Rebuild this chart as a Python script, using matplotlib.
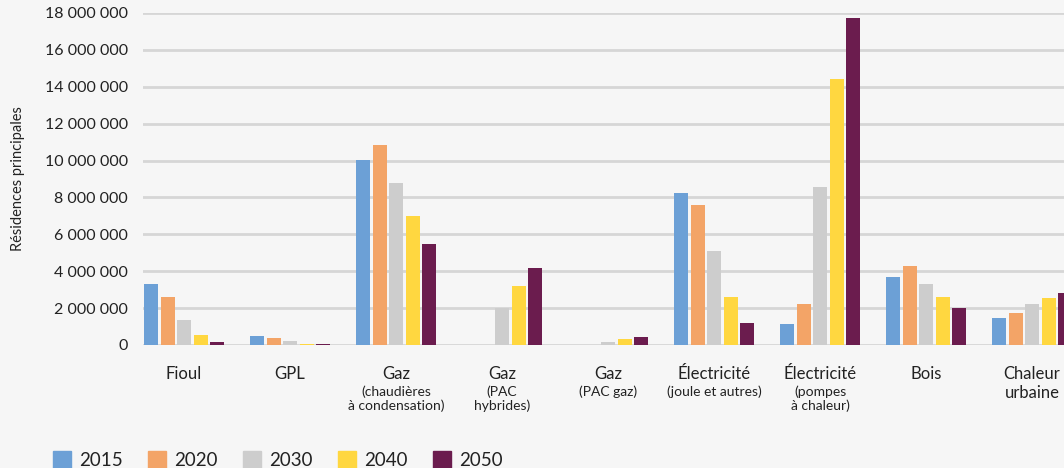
import matplotlib
matplotlib.use("Agg")
import matplotlib.pyplot as plt
from matplotlib.patches import Rectangle
from matplotlib.ticker import FuncFormatter
import numpy as np

plt.rcParams['font.family'] = ['Lato', 'DejaVu Sans']

categories = ["Fioul", "GPL", "Gaz", "Gaz", "Gaz", "Électricité", "Électricité", "Bois", "Chaleur\nurbaine"]
sublabels = ["", "", "(chaudières\nà condensation)", "(PAC\nhybrides)", "(PAC gaz)",
             "(joule et autres)", "(pompes\nà chaleur)", "", ""]
years = ["2015", "2020", "2030", "2040", "2050"]

v2015 = [3300000, 470000, 10030000, 0, 0, 8240000, 1140000, 3690000, 1460000]
v2020 = [2600000, 370000, 10840000, 0, 0, 7590000, 2220000, 4280000, 1730000]
v2030 = [1350000, 200000, 8780000, 2000000, 150000, 5100000, 8570000, 3300000, 2220000]
v2040 = [550000, 50000, 7000000, 3200000, 330000, 2600000, 14430000, 2600000, 2550000]
v2050 = [170000, 70000, 5470000, 4180000, 430000, 1190000, 17730000, 2000000, 2820000]
series = [v2015, v2020, v2030, v2040, v2050]
colors = ["#6ca0d6", "#f3a467", "#cdcdcd", "#ffd740", "#6b1c4e"]

W, H = 1064, 468
fig = plt.figure(figsize=(W/100, H/100), dpi=100)
bg = "#f6f6f6"
fig.patch.set_facecolor(bg)

left = 143 / W
bottom = 1 - 345 / H
top = 1 - 13 / H
width = 954 / W
ax = fig.add_axes([left, bottom, width, top - bottom])
ax.set_facecolor(bg)

x = np.arange(len(categories))
step = 16.5 / 106
bw = 14 / 106
for k, (vals, c) in enumerate(zip(series, colors)):
    ax.bar(x + (k - 2) * step, vals, width=bw, color=c, zorder=3, label=years[k])

ax.set_xlim(-0.387, len(categories) - 0.387)
ax.set_ylim(0, 18000000)
ax.set_yticks(np.arange(0, 18000001, 2000000))
ax.yaxis.set_major_formatter(FuncFormatter(lambda v, p: f"{int(v):,}".replace(",", " ")))
ax.grid(axis='y', color="#d6d6d6", linewidth=2, zorder=0)
ax.set_axisbelow(True)
for s in ax.spines.values():
    s.set_visible(False)
ax.tick_params(axis='y', length=0, pad=11, labelsize=11.5, labelcolor="#222222")
ax.set_xticks(x)
ax.set_xticklabels([])
ax.tick_params(axis='x', length=0)

ax.set_ylabel("Résidences principales", fontsize=10.5, color="#222222")
ax.yaxis.set_label_coords(-118/954, 0.5)

trans = ax.get_xaxis_transform()
for i, (lab, sub) in enumerate(zip(categories, sublabels)):
    ax.text(i, -21/332, lab, transform=trans, ha='center', va='top', fontsize=12,
            color="#222222", linespacing=1.2, clip_on=False)
    if sub:
        ax.text(i, -40/332, sub, transform=trans, ha='center', va='top', fontsize=10,
                color="#222222", linespacing=1.2, clip_on=False)

# legend
for k, (yr, c) in enumerate(zip(years, colors)):
    x0 = 53 + k * 95
    fig.add_artist(Rectangle((x0 / W, 1 - 469 / H), 18 / W, 18 / H, color=c,
                             transform=fig.transFigure))
    fig.text((x0 + 26) / W, 1 - 461 / H, yr, fontsize=13.5, va='center', ha='left', color="#222222")

fig.savefig("out.png", dpi=100, facecolor=bg)
